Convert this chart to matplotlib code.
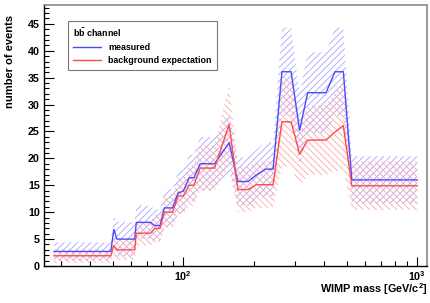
import numpy as np
import matplotlib
matplotlib.use("Agg")
import matplotlib.pyplot as plt
from matplotlib.ticker import FixedLocator, NullFormatter, FixedFormatter, MultipleLocator

plt.rcParams.update({
    "font.family": ["Liberation Sans", "DejaVu Sans"],
    "font.weight": "bold",
    "mathtext.fontset": "custom",
    "mathtext.rm": "Liberation Sans:bold",
    "mathtext.bf": "Liberation Sans:bold",
    "mathtext.it": "Liberation Sans:bold",
    "mathtext.default": "bf",
    "hatch.linewidth": 0.6,
})

# WIMP mass points [GeV/c^2] and event counts (b-bbar channel)
mass = [28, 49, 50.5, 52, 62, 63, 72.5, 75.5, 79.5, 83, 90, 95, 100, 106, 111,
        118, 136, 157, 171, 189, 205, 225, 242, 264, 289, 314, 340, 407, 445,
        483, 525, 1000]
measured = [2.7, 2.7, 6.8, 5.0, 5.0, 8.1, 8.1, 7.5, 7.5, 10.8, 10.8, 13.6, 13.9,
            16.4, 16.4, 19.0, 19.0, 22.9, 15.7, 15.7, 16.9, 18.0, 18.0, 36.1,
            36.1, 25.2, 32.2, 32.2, 36.1, 36.1, 16.0, 16.0]
measured_err = [1.7, 1.7, 2.5, 3.2, 3.2, 3.1, 3.1, 3.0, 3.0, 3.5, 3.5, 4.0, 4.0,
                4.3, 4.3, 5.0, 5.0, 5.5, 4.5, 4.5, 4.7, 5.0, 5.0, 8.2, 8.2, 6.8,
                7.5, 7.5, 8.2, 8.2, 4.4, 4.4]
background = [1.9, 1.9, 3.8, 3.0, 3.0, 6.1, 6.1, 7.0, 7.0, 10.0, 10.0, 13.0, 13.0,
              15.0, 15.0, 18.2, 18.2, 26.3, 14.2, 14.2, 15.1, 15.1, 15.1, 26.8,
              26.8, 20.8, 23.4, 23.4, 24.9, 26.1, 14.9, 14.9]
background_err = [1.3, 1.3, 1.8, 1.9, 1.9, 2.3, 2.3, 2.5, 2.5, 3.0, 3.0, 3.4, 3.4,
                  3.8, 3.8, 4.2, 4.2, 7.4, 4.2, 4.2, 4.3, 4.3, 4.3, 8.3, 8.3, 6.0,
                  6.5, 6.5, 7.3, 8.2, 4.5, 4.5]

BLUE, RED = "#4a4aff", "#ff4a4a"
BLUE_HATCH, RED_HATCH = "#a5a5ff", "#ffa5a5"

m = np.array(mass)
meas, meas_e = np.array(measured), np.array(measured_err)
bkg, bkg_e = np.array(background), np.array(background_err)

fig = plt.figure(figsize=(4.30, 3.03), dpi=100)
ax = fig.add_axes([44 / 430, 37 / 303, 383 / 430, 261 / 303])

ax.fill_between(m, meas - meas_e, meas + meas_e, facecolor="none",
                edgecolor=BLUE_HATCH, hatch="/////", linewidth=0)
ax.fill_between(m, bkg - bkg_e, bkg + bkg_e, facecolor="none",
                edgecolor=RED_HATCH, hatch="\\\\\\\\\\", linewidth=0)
ax.plot(m, meas, color=BLUE, lw=1.0, label="measured")
ax.plot(m, bkg, color=RED, lw=1.0, label="background expectation")

ax.set_xscale("log")
ax.set_xlim(25.4, 1100)
ax.set_ylim(0, 48.5)

ax.xaxis.set_major_locator(FixedLocator([100, 1000]))
ax.xaxis.set_major_formatter(FixedFormatter([r"$10^{2}$", r"$10^{3}$"]))
minors = [30, 40, 50, 60, 70, 80, 90, 200, 300, 400, 500, 600, 700, 800, 900]
ax.xaxis.set_minor_locator(FixedLocator(minors))
ax.xaxis.set_minor_formatter(NullFormatter())
ax.yaxis.set_major_locator(MultipleLocator(5))
ax.yaxis.set_minor_locator(MultipleLocator(1))

ax.tick_params(which="both", direction="in", top=False, right=False,
               labelsize=7.7, width=0.8)
ax.tick_params(axis="y", which="major", length=7.5, pad=3)
ax.tick_params(axis="y", which="minor", length=3.8)
ax.tick_params(axis="x", which="major", length=6.5, pad=2)
ax.tick_params(axis="x", which="minor", length=3.3)
for lab in ax.get_xticklabels() + ax.get_yticklabels():
    lab.set_fontweight("bold")

for side in ("top", "right"):
    ax.spines[side].set_color("#888888")
    ax.spines[side].set_linewidth(1.2)
for side in ("left", "bottom"):
    ax.spines[side].set_linewidth(1.0)

leg = ax.legend(loc="upper left", bbox_to_anchor=(0.062, 0.94),
                borderaxespad=0, fontsize=6.4, frameon=True, fancybox=False,
                title=r"$b\bar{b}$ channel", title_fontsize=6.4,
                alignment="left", handlelength=3.2, handletextpad=0.8,
                borderpad=0.55, labelspacing=0.5)
leg.get_frame().set_edgecolor("#555555")
leg.get_frame().set_linewidth(0.8)
for t in leg.get_texts():
    t.set_fontweight("bold")

fig.text(10 / 430, 1 - 15 / 303, "number of events", rotation=90,
         ha="center", va="top", fontsize=8, fontweight="bold")
fig.text(428 / 430, 1 - 289 / 303, r"WIMP mass [GeV/c$^{2}$]",
         ha="right", va="center", fontsize=7.8, fontweight="bold")

fig.savefig("out.png", dpi=100)
